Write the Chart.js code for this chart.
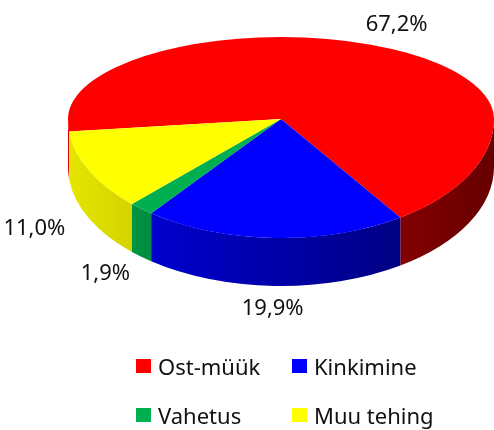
<!DOCTYPE html>
<html>
<head>
<meta charset="utf-8">
<script src="https://cdn.jsdelivr.net/npm/chart.js@4.4.1/dist/chart.umd.min.js"></script>
<style>
  html, body { margin: 0; padding: 0; background: #fff; }
  #wrap { position: relative; width: 494px; height: 430px; }
  #chart { display: block; }
  #legend {
    position: absolute; left: 136px; top: 353px;
    display: grid; grid-template-columns: 156px auto; row-gap: 23px;
    font-family: 'Noto Sans', sans-serif; font-size: 22px; line-height: 26px; color: #111;
  }
  .item { display: flex; align-items: center; white-space: nowrap; }
  .box { width: 15px; height: 14px; margin-right: 7px; }
</style>
</head>
<body>
<div id="wrap">
  <canvas id="chart" width="494" height="430"></canvas>
  <div id="legend"></div>
</div>
<script>
// data
const categories = ['Ost-müük', 'Kinkimine', 'Vahetus', 'Muu tehing'];
const shares = [67.2, 19.9, 1.9, 11.0];
const colors = ['#FF0000', '#0000FF', '#00B050', '#FFFF00'];

// 3D look: ellipse geometry of the top face
const CX = 281, APEX_Y = 119, RX = 213, RY_BACK = 82, RY_FRONT = 119, DEPTH = 48;
const TAU = Math.PI * 2;

function shade(hex, f) {
  const n = parseInt(hex.slice(1), 16);
  const r = Math.round(((n >> 16) & 255) * f);
  const g = Math.round(((n >> 8) & 255) * f);
  const b = Math.round((n & 255) * f);
  return 'rgb(' + r + ',' + g + ',' + b + ')';
}

function squash(ctx, meta, ry) {
  const arc = meta.data[0];
  const R = arc.outerRadius;
  ctx.translate(CX, APEX_Y);
  ctx.scale(RX / R, ry / R);
  ctx.translate(-arc.x, -arc.y);
}

function drawWalls(ctx, meta) {
  meta.data.forEach((arc, i) => {
    let a1 = arc.startAngle, a2 = arc.endAngle;
    const shift = Math.floor(a1 / TAU) * TAU;
    a1 -= shift; a2 -= shift;
    [[0, Math.PI], [TAU, TAU + Math.PI]].forEach(([lo, hi]) => {
      const b1 = Math.max(a1, lo), b2 = Math.min(a2, hi);
      if (b2 <= b1) return;
      const grad = ctx.createLinearGradient(CX - RX, 0, CX + RX, 0);
      grad.addColorStop(0, shade(colors[i], 0.9));
      grad.addColorStop(0.5, shade(colors[i], 0.66));
      grad.addColorStop(1, shade(colors[i], 0.4));
      ctx.beginPath();
      ctx.ellipse(CX, APEX_Y, RX, RY_FRONT, 0, b1, b2);
      ctx.ellipse(CX, APEX_Y + DEPTH, RX, RY_FRONT, 0, b2, b1, true);
      ctx.closePath();
      ctx.fillStyle = grad;
      ctx.fill();
    });
  });
}

const pie3d = {
  id: 'pie3d',
  beforeDatasetsDraw(chart) {
    const ctx = chart.ctx;
    const meta = chart.getDatasetMeta(0);
    ctx.save();
    drawWalls(ctx, meta);
    ctx.restore();
    // back half of the top face
    ctx.save();
    ctx.beginPath(); ctx.rect(0, 0, chart.width, APEX_Y); ctx.clip();
    squash(ctx, meta, RY_BACK);
    meta.controller.draw();
    ctx.restore();
    // front half
    ctx.save();
    ctx.beginPath(); ctx.rect(0, APEX_Y, chart.width, chart.height); ctx.clip();
    squash(ctx, meta, RY_FRONT);
    meta.controller.draw();
    ctx.restore();
    return false;
  },
  afterDraw(chart) {
    const ctx = chart.ctx;
    const meta = chart.getDatasetMeta(0);
    ctx.save();
    ctx.font = '22px "Noto Sans"';
    ctx.fillStyle = '#111';
    ctx.textAlign = 'center';
    ctx.textBaseline = 'middle';
    meta.data.forEach((arc, i) => {
      const m = (arc.startAngle + arc.endAngle) / 2;
      const c = Math.cos(m), s = Math.sin(m);
      const front = s > 0;
      const txt = shares[i].toFixed(1).replace('.', ',') + '%';
      const w = ctx.measureText(txt).width;
      let x = CX + RX * c;
      let y = APEX_Y + (front ? RY_FRONT : RY_BACK) * s + (front ? DEPTH : 0);
      x += c * (30 + w / 2);
      y += s * (14 + 8.5);
      ctx.fillText(txt, x, y);
    });
    ctx.restore();
  }
};

new Chart(document.getElementById('chart'), {
  type: 'pie',
  data: {
    labels: categories,
    datasets: [{
      data: shares,
      backgroundColor: colors,
      borderWidth: 0
    }]
  },
  options: {
    responsive: false,
    animation: false,
    devicePixelRatio: 1,
    rotation: 264,
    plugins: {
      legend: { display: false },
      tooltip: { enabled: false }
    }
  },
  plugins: [pie3d]
});

// legend, 2 x 2 grid
const legend = document.getElementById('legend');
categories.forEach((name, i) => {
  const item = document.createElement('div');
  item.className = 'item';
  const box = document.createElement('span');
  box.className = 'box';
  box.style.background = colors[i];
  item.appendChild(box);
  item.appendChild(document.createTextNode(name));
  legend.appendChild(item);
});
</script>
</body>
</html>
